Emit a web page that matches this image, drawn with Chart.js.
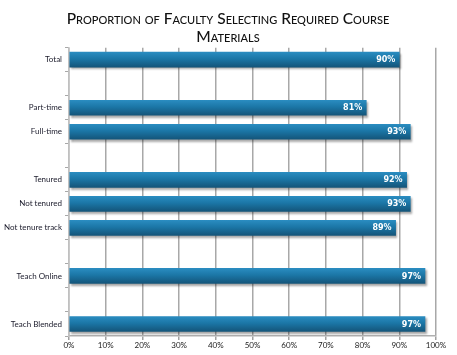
<!DOCTYPE html>
<html><head><meta charset="utf-8">
<script src="https://cdn.jsdelivr.net/npm/chart.js@4"></script>
<style>html,body{margin:0;padding:0;background:#fff}#wrap{width:457px;height:355px}</style>
</head><body><div id="wrap"><canvas id="c" width="457" height="355"></canvas></div>
<script>
const titleLines = ['Proportion of Faculty Selecting Required Course', 'Materials'];
const categories = ['Total', '', 'Part-time', 'Full-time', '', 'Tenured', 'Not tenured', 'Not tenure track', '', 'Teach Online', '', 'Teach Blended'];
const values = [90, null, 81, 93, null, 92, 93, 89, null, 97, null, 97];
const xTicks = [0, 10, 20, 30, 40, 50, 60, 70, 80, 90, 100];

const BAR_H = 15;
function barFill(ctx) {
  const chart = ctx.chart;
  const y = chart.scales && chart.scales.y;
  const yc = y ? y.getPixelForValue(ctx.dataIndex) : NaN;
  if (yc == null || isNaN(yc)) return '#1b72a0';
  const g = chart.ctx.createLinearGradient(0, yc - BAR_H / 2, 0, yc + BAR_H / 2);
  g.addColorStop(0, '#2a8cc0');
  g.addColorStop(0.45, '#1b76a6');
  g.addColorStop(1, '#14557a');
  return g;
}

const shadowPlugin = {
  id: 'shadow',
  afterLayout(chart) {
    const t = chart.titleBlock;
    if (t) { t.left += 10; t.right += 10; }
  },
  beforeDatasetsDraw(chart) {
    const c = chart.ctx; c.save();
    c.shadowColor = 'rgba(0,0,0,0.35)'; c.shadowOffsetX = 1.5; c.shadowOffsetY = 2; c.shadowBlur = 2;
  },
  afterDatasetsDraw(chart) {
    chart.ctx.restore();
    const c = chart.ctx;
    const meta = chart.getDatasetMeta(0);
    c.save();
    c.font = 'bold 8px "DejaVu Sans", sans-serif';
    c.fillStyle = '#ffffff';
    c.textAlign = 'right';
    c.textBaseline = 'middle';
    meta.data.forEach((el, i) => {
      const v = chart.data.datasets[0].data[i];
      if (v == null) return;
      c.fillText(v + '%', el.x - 4, el.y + 0.5);
    });
    c.restore();
  }
};

new Chart(document.getElementById('c'), {
  type: 'bar',
  data: {
    labels: categories,
    datasets: [{
      data: values,
      backgroundColor: barFill,
      borderWidth: 0,
      barThickness: BAR_H
    }]
  },
  options: {
    indexAxis: 'y',
    responsive: false,
    animation: false,
    layout: { padding: { left: 0, right: 21, top: 0, bottom: 0 } },
    plugins: {
      legend: { display: false },
      tooltip: { enabled: false },
      title: {
        display: true,
        text: titleLines,
        color: '#111',
        font: { family: 'Lato, "Open Sans", sans-serif', size: 15.5, weight: 'small-caps 500', lineHeight: 1.15 },
        padding: { top: 10, bottom: 2 }
      }
    },
    scales: {
      x: {
        min: 0, max: 100,
        afterBuildTicks(s) { s.ticks = xTicks.map(v => ({ value: v })); },
        afterFit(s) { s.height = 19; },
        ticks: { callback: v => v + '%', color: '#222', font: { family: 'Lato, sans-serif', size: 8 }, padding: 1, maxRotation: 0 },
        grid: { color: '#a8a8a8', lineWidth: 1.5, tickLength: 4, tickColor: '#a0a0a0' },
        border: { color: '#b0b0b0', width: 1.5 }
      },
      y: {
        afterFit(s) { s.width = 69; },
        ticks: { color: '#1a1a2a', font: { family: 'Lato, sans-serif', size: 8 }, padding: 3 },
        grid: { drawOnChartArea: false, offset: true, tickLength: 4, color: '#a8a8a8', lineWidth: 1 },
        border: { color: '#c0c0c0', width: 1.5 }
      }
    }
  },
  plugins: [shadowPlugin]
});
</script></body></html>
